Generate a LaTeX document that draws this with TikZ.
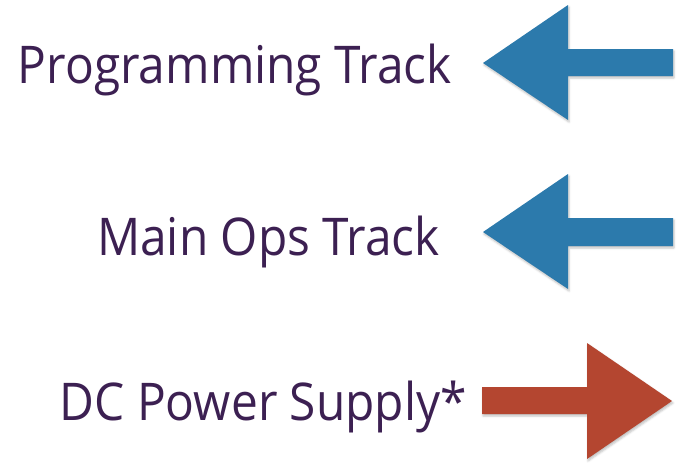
\documentclass[tikz,border=0pt]{standalone}
\usepackage{fontspec}
\setmainfont[FakeStretch=0.92]{Open Sans}
\usetikzlibrary{shadows.blur}
\definecolor{labelpurple}{RGB}{60,32,82}
\definecolor{trackblue}{RGB}{44,122,172}
\definecolor{supplyred}{RGB}{180,70,48}
\tikzset{
  label/.style={anchor=base east, inner sep=0pt, text=labelpurple, font=\fontsize{52}{60}\selectfont},
  arrowshape/.style={draw=none, blur shadow={shadow opacity=25, shadow xshift=1pt, shadow yshift=-2pt, shadow blur radius=2pt}}
}
\begin{document}
\begin{tikzpicture}[x=1pt,y=-1pt]
  \useasboundingbox (0,0) rectangle (684,472);
  % labels
  \node[label] (prog) at (452,83) {Programming Track};
  \node[label] (ops) at (440,255) {Main Ops Track};
  \node[label] (dc) at (467,420) {DC Power Supply*};
  % left-pointing arrow beside the programming track
  \fill[trackblue, arrowshape] (483,63) -- (568,5) -- (568,49) -- (673,49)
        -- (673,76) -- (568,76) -- (568,120) -- cycle;
  % left-pointing arrow beside the main ops track
  \fill[trackblue, arrowshape] (483,232) -- (568,174) -- (568,218) -- (673,218)
        -- (673,246) -- (568,246) -- (568,289) -- cycle;
  % right-pointing arrow beside the power supply
  \fill[supplyred, arrowshape] (672,401) -- (587,343) -- (587,387) -- (482,387)
        -- (482,414) -- (587,414) -- (587,459) -- cycle;
\end{tikzpicture}
\end{document}
